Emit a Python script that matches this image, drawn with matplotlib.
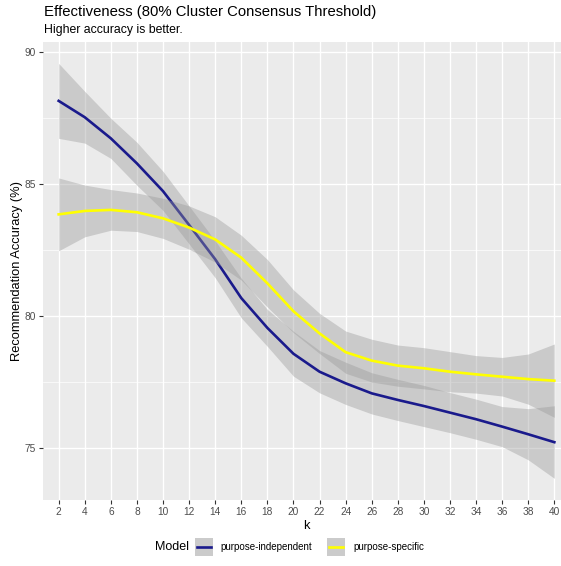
import matplotlib
matplotlib.use("Agg")
import matplotlib.pyplot as plt
from matplotlib.patches import Rectangle
from matplotlib.lines import Line2D

plt.rcParams['font.family'] = ['Liberation Sans', 'DejaVu Sans']

# k values (discrete axis)
k = [2, 4, 6, 8, 10, 12, 14, 16, 18, 20, 22, 24, 26, 28, 30, 32, 34, 36, 38, 40]

# purpose-independent: fitted line and ribbon
indep = [88.15, 87.53, 86.73, 85.78, 84.73, 83.45, 82.15, 80.68, 79.55, 78.57,
         77.89, 77.45, 77.07, 76.82, 76.59, 76.34, 76.09, 75.81, 75.52, 75.22]
indep_lo = [86.73, 86.55, 85.97, 84.95, 84.0, 82.73, 81.45, 79.93, 78.85, 77.72,
            77.09, 76.65, 76.29, 76.04, 75.81, 75.58, 75.33, 75.05, 74.55, 73.85]
indep_hi = [89.57, 88.51, 87.49, 86.58, 85.48, 84.17, 82.85, 81.43, 80.25, 79.42,
            78.69, 78.25, 77.85, 77.6, 77.37, 77.1, 76.85, 76.57, 76.49, 76.6]

# purpose-specific: fitted line and ribbon
spec = [83.85, 83.98, 84.02, 83.93, 83.7, 83.35, 82.9, 82.21, 81.24, 80.18,
        79.34, 78.63, 78.31, 78.12, 78.02, 77.89, 77.79, 77.7, 77.61, 77.55]
spec_lo = [82.47, 83.0, 83.25, 83.2, 82.94, 82.53, 82.04, 81.36, 80.34, 79.37,
           78.58, 77.83, 77.5, 77.34, 77.24, 77.13, 77.08, 76.97, 76.66, 76.16]
spec_hi = [85.23, 84.96, 84.79, 84.66, 84.46, 84.17, 83.76, 83.06, 82.14, 80.99,
           80.1, 79.43, 79.12, 78.9, 78.8, 78.65, 78.5, 78.43, 78.56, 78.94]

series = [("purpose-independent", indep, indep_lo, indep_hi, "#1a1a8c"),
          ("purpose-specific", spec, spec_lo, spec_hi, "#ffff00")]

W, H = 561, 566
fig = plt.figure(figsize=(W / 100, H / 100), dpi=100)
# panel spans x 43..570 px (right part cropped), y 42..500 px
ax = fig.add_axes([43 / W, 1 - 500 / H, (570 - 43) / W, (500 - 42) / H])
ax.set_facecolor("#ebebeb")
for sp in ax.spines.values():
    sp.set_visible(False)

for name, y, lo, hi, col in series:
    ax.fill_between(k, lo, hi, color="#999999", alpha=0.4, linewidth=0, zorder=2)
    ax.plot(k, y, color=col, linewidth=1.9, zorder=2)

ax.set_xlim(0.8, 41.2)
ax.set_ylim(73.03, 90.38)
ax.set_xticks(k)
ax.set_xticklabels([str(v) for v in k])
ax.set_yticks([75, 80, 85, 90])
ax.set_yticks([77.5, 82.5, 87.5], minor=True)
ax.grid(True, which="major", color="white", linewidth=1.0, zorder=1)
ax.grid(True, which="minor", axis="y", color="white", linewidth=0.5, zorder=1)
ax.set_axisbelow(True)
ax.tick_params(axis="both", which="major", length=3, width=0.8, color="#333333",
               labelcolor="#4d4d4d", labelsize=7.3, pad=2)
ax.tick_params(axis="both", which="minor", length=0)

ax.set_xlabel("k", fontsize=9.3, labelpad=2)
ax.set_ylabel("Recommendation Accuracy (%)", fontsize=9.3, labelpad=1)

fig.text(44 / W, 1 - 12 / H, "Effectiveness (80% Cluster Consensus Threshold)",
         fontsize=10.7, va="center", ha="left")
fig.text(44 / W, 1 - 30 / H, "Higher accuracy is better.", fontsize=8.8,
         va="center", ha="left")

# legend drawn by hand at the bottom
ly = 1 - 547 / H
fig.text(155 / W, ly, "Model", fontsize=9.0, va="center", ha="left")
keys = [(195, 220, series[0]), (327, 353, series[1])]
for kx, tx, s in keys:
    fig.patches.append(Rectangle((kx / W, ly - 9 / H), 18 / W, 18 / H,
                                 transform=fig.transFigure, facecolor="#cbcbcb",
                                 edgecolor="none"))
    fig.lines.append(Line2D([(kx + 2) / W, (kx + 16) / W], [ly, ly],
                            transform=fig.transFigure, color=s[4], linewidth=1.9))
    fig.text(tx / W, ly, s[0], fontsize=7.0, va="center", ha="left")

fig.savefig("out.png", dpi=100, facecolor="white")
